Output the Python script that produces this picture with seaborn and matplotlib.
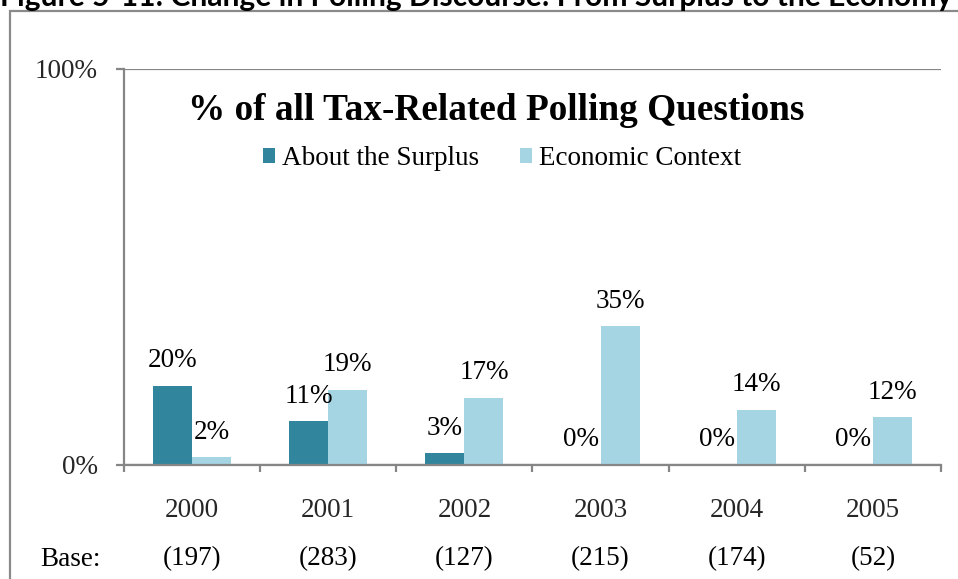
import matplotlib
matplotlib.use("Agg")
import matplotlib.pyplot as plt
import matplotlib.transforms as mtransforms
from matplotlib.patches import Rectangle
import seaborn as sns
import pandas as pd

# Data
years = ["2000", "2001", "2002", "2003", "2004", "2005"]
surplus = [20, 11, 3, 0, 0, 0]
economic = [2, 19, 17, 35, 14, 12]
bases = [197, 283, 127, 215, 174, 52]
series = ["About the Surplus", "Economic Context"]
colors = ["#31859C", "#A5D5E2"]
axis_grey = "#868686"

sns.set_theme(style="white")
plt.rcParams["font.family"] = ["Liberation Serif", "DejaVu Serif"]
plt.rcParams["text.color"] = "black"

df = pd.DataFrame({
    "Year": years * 2,
    "Series": [series[0]] * len(years) + [series[1]] * len(years),
    "Share": surplus + economic,
})

W, H = 958, 579
fig = plt.figure(figsize=(W / 100, H / 100), dpi=100)
fig.patch.set_facecolor("white")

# outer frame of the figure panel
fig.add_artist(Rectangle((10 / W, -0.05), 1.2, 1.05 - 10.5 / H,
                         transform=fig.transFigure, fill=False,
                         edgecolor="#8a8a8a", linewidth=1.6))

# caption line running along the top edge
fig.text(0 / W, 1 - 6 / H,
         "Figure 5-11: Change in Polling Discourse: From Surplus to the Economy",
         family=["Lato", "DejaVu Sans"], weight="bold", fontsize=21.6,
         ha="left", va="baseline")

ax = fig.add_axes([124 / W, 1 - 465 / H, (941 - 124) / W, (465 - 69) / H])
sns.barplot(data=df, x="Year", y="Share", hue="Series", palette=colors,
            width=0.573, saturation=1, linewidth=0, errorbar=None,
            legend=False, ax=ax)

ax.set_xlim(-0.5, len(years) - 0.5)
ax.set_ylim(0, 100)
ax.set_xlabel("")
ax.set_ylabel("")

for s in ["top", "right"]:
    ax.spines[s].set_visible(False)
for s in ["left", "bottom"]:
    ax.spines[s].set_color(axis_grey)
    ax.spines[s].set_linewidth(1.6)

# y axis: only 0% and 100%, with a gridline at the top
ax.set_yticks([0, 100])
ax.set_yticklabels(["0%", "100%"])
ax.tick_params(axis="y", which="major", length=6, width=1.6, color=axis_grey,
               pad=13, labelsize=19.5, left=True)
ax.yaxis.grid(True, color=axis_grey, linewidth=1.6)
ax.set_axisbelow(True)

# x axis: tick marks between categories, labels at centres
bounds = [i - 0.5 for i in range(len(years) + 1)]
ax.set_xticks(bounds)
ax.set_xticklabels([""] * len(bounds))
ax.set_xticks(range(len(years)), minor=True)
ax.set_xticklabels(years, minor=True)
ax.tick_params(axis="x", which="major", length=5, width=1.6, color=axis_grey,
               bottom=True)
ax.tick_params(axis="x", which="minor", length=0, pad=24, labelsize=19.5,
               bottom=True)

# value labels
for cont, vals in zip(ax.containers, [surplus, economic]):
    ax.bar_label(cont, labels=[f"{v}%" for v in vals], padding=9, fontsize=19.5)

# chart heading and legend inside the plot area
ax.text(0.456, 0.894, "% of all Tax-Related Polling Questions",
        transform=ax.transAxes, ha="center", va="center",
        fontsize=26.8, weight="bold")
handles = [Rectangle((0, 0), 1, 1, facecolor=c, edgecolor="none") for c in colors]
ax.legend(handles, series, loc="center", bbox_to_anchor=(0.4627, 0.773),
          ncol=2, frameon=False, fontsize=19.5, handlelength=0.45,
          handleheight=0.45, handletextpad=0.27, columnspacing=1.5,
          borderaxespad=0, borderpad=0)

# base sizes under each year
base_y = 1 - 559 / H
fig.text(71 / W, base_y, "Base:", ha="center", va="center", fontsize=19.5)
trans = mtransforms.blended_transform_factory(ax.transData, fig.transFigure)
for i, b in enumerate(bases):
    ax.text(i, base_y, f"({b})", transform=trans, ha="center", va="center",
            fontsize=19.5)

fig.savefig("out.png", dpi=100, facecolor="white")
